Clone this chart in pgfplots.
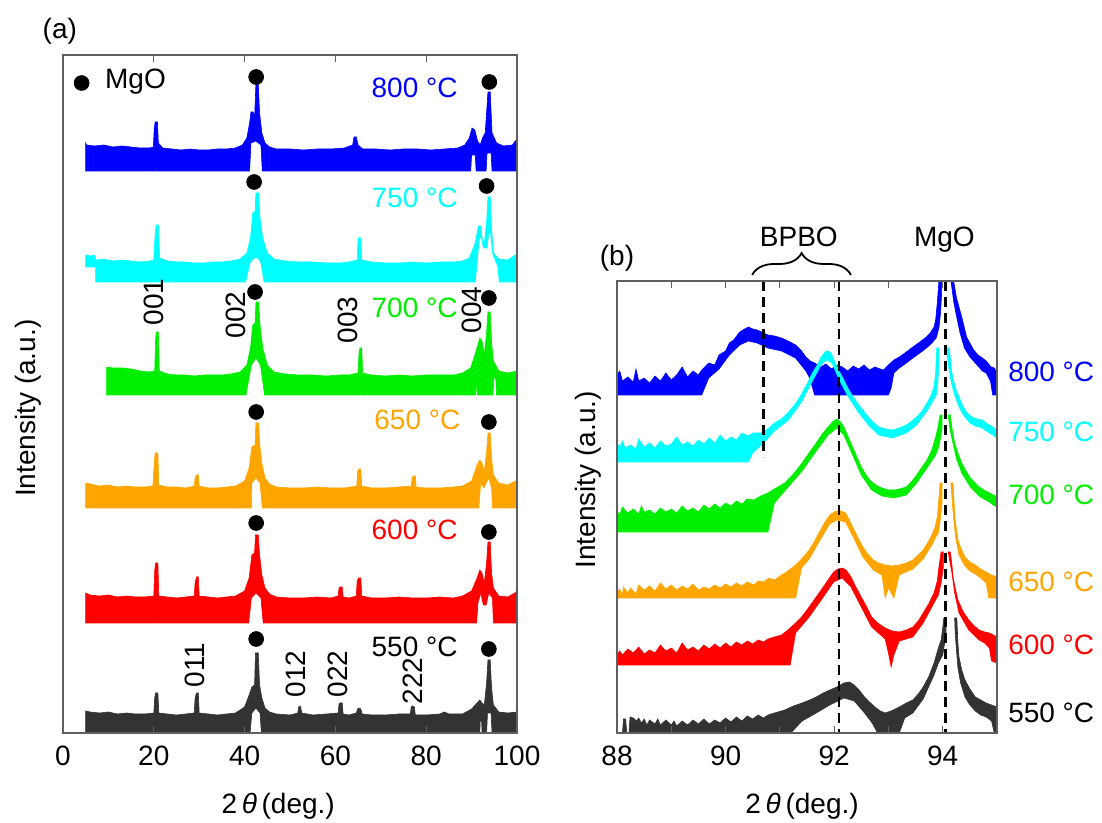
\documentclass[border=0pt]{standalone}
\usepackage{fontspec}
\setmainfont{Liberation Sans}
\usepackage{pgfplots}
\pgfplotsset{compat=1.18}
\usetikzlibrary{decorations.pathreplacing}
\definecolor{cBlue}{RGB}{0,0,255}
\definecolor{cCyan}{RGB}{0,255,255}
\definecolor{cGreen}{RGB}{0,238,0}
\definecolor{cOrange}{RGB}{255,165,0}
\definecolor{cRed}{RGB}{255,0,0}
\definecolor{cGray}{RGB}{51,51,51}
\definecolor{axgray}{RGB}{95,95,95}
\newcommand\fs{\fontsize{14}{16.8}\selectfont}
\pgfplotsset{
  myax/.style={scale only axis, axis on top, clip=false,
    axis line style={axgray, line width=0.6pt},
    tick style={axgray, line width=0.6pt},
    tick align=inside, major tick length=3.5pt, minor tick length=3.5pt,
    ytick=\empty,
    /pgf/number format/assume math mode=true,
    xticklabel style={font=\fs, yshift=-1.5pt},
    xlabel style={font=\fs, anchor=center},
    ylabel style={font=\fs, anchor=center},
  },
  tr/.style={fill=#1, draw=#1, line width=0.3pt},
}
\begin{document}
\fs
\begin{tikzpicture}[x=1pt,y=1pt]
\path[use as bounding box] (0,0) rectangle (551,411.5);
% ---------------- panel (a)
\begin{axis}[myax, at={(31.5pt,45pt)}, anchor=south west, width=227pt, height=339pt,
  xmin=0, xmax=100, ymin=0, ymax=678, xtick={0,20,...,100},
  xlabel={2\,\textit{θ}\,(deg.)}, xlabel style={at={(axis description cs:0.474,-0.108)}},
  ylabel={Intensity (a.u.)}, ylabel style={at={(axis description cs:-0.076,0.479)}}]
% 800 C
\addplot[tr=cBlue] coordinates {(5,562)(5,590)(5.2,588)(7,587)(9,588)(11,586)(13,587)(15,586)(17,585)(19,585)(19.9,586)(20.1,605)(20.3,611)(20.8,611)(21.0,590)(22,585)(24,584)(26,583)(28,584)(30,583)(32,583)(34,584)(36,584)(38,585)(39.5,588)(40.5,595)(41.1,610)(41.4,621)(41.9,621)(42.2,615)(42.5,650)(43.0,650)(43.3,620)(43.8,600)(44.5,590)(45.5,586)(47,584)(50,584)(53,583)(56,584)(59,584)(62,585)(63.8,588)(64.1,596)(64.6,596)(65,588)(66,584)(69,584)(72,583)(75,584)(78,584)(81,583)(84,584)(87,585)(88.5,588)(89.5,595)(90.1,605)(90.7,603)(91.3,592)(91.9,588)(92.4,595)(93.0,600)(93.6,641)(94.1,641)(94.5,600)(95.5,590)(97,587)(99,588)(99.6,592)(100,593)
 (100,562)(94.5,562)(94.3,580)(93.4,580)(93.2,562)(91.0,562)(90.8,578)(90.0,578)(89.8,562)(64.45,562)(64.5,578)(64.55,562)(43.9,562)(43.6,588)(42.5,592)(41.4,590)(41.1,562)(20.55,562)(20.5,578)(20.45,562)} -- cycle;
% 750 C
\addplot[tr=cCyan] coordinates {(5,466)(5,478)(6,477)(7,478)(7.2,473)(9,474)(11,472)(13,473)(15,472)(17,471)(19,472)(20.0,473)(20.3,500)(20.5,508)(21.0,508)(21.3,475)(23,472)(25,471)(27,471)(29,470)(31,470)(33,471)(35,471)(37,472)(39,474)(40.5,480)(41.3,495)(41.8,520)(42.3,522)(42.5,540)(43.1,540)(43.4,515)(44,495)(45,480)(46.5,474)(49,472)(52,471)(55,471)(58,470)(61,470)(63,471)(64.8,473)(65.0,495)(65.6,495)(65.8,473)(68,471)(71,470)(74,470)(77,471)(80,470)(83,471)(86,471)(88,472)(89.5,475)(90.8,490)(91.5,507)(92.0,507)(92.4,492)(92.8,490)(93.3,510)(93.6,536)(94.1,536)(94.4,505)(94.8,480)(96,474)(98,473)(99.6,478)(100,476)
 (100,451)(96.1,451)(95.8,466)(94.6,480)(94.2,500)(93.8,500)(93.4,485)(92.6,485)(92.2,495)(91.7,495)(91.2,470)(90.8,451)(65.35,451)(65.3,465)(65.25,451)(44.3,451)(43.6,470)(43.0,475)(42.0,475)(41.2,470)(40.2,451)(20.8,451)(20.75,468)(20.7,451)(7.2,451)(7.2,466)} -- cycle;
% 700 C
\addplot[tr=cGreen] coordinates {(9.6,338)(9.6,366)(11,365)(13,365)(15,364)(17,362)(19,361)(20.2,362)(20.4,395)(20.6,401)(21.0,401)(21.2,362)(23,359)(25,358)(27,358)(29,357)(31,358)(33,358)(35,358)(37,359)(39,361)(40.5,368)(41.3,385)(41.8,408)(42.3,410)(42.5,431)(43.1,431)(43.4,408)(44,385)(45,368)(46.5,361)(49,359)(52,358)(55,358)(58,357)(61,358)(63,358)(65.0,360)(65.2,380)(65.4,385)(65.8,385)(66,360)(68,358)(71,357)(74,358)(77,357)(80,358)(83,358)(86,358)(88,360)(89.8,365)(91.2,385)(91.8,395)(92.3,392)(92.8,378)(93.3,400)(93.6,421)(94.1,421)(94.4,390)(94.8,372)(96,362)(98,360)(100,362)
 (100,338)(95.5,338)(95.3,355)(94.9,355)(94.7,338)(91.3,338)(91.1,352)(90.9,338)(65.65,338)(65.6,355)(65.55,338)(44.4,338)(43.5,368)(42.5,375)(41.5,368)(40.3,338)(20.85,338)(20.8,355)(20.75,338)} -- cycle;
% 650 C
\addplot[tr=cOrange] coordinates {(5,225)(5,250)(6,249)(8,247)(10,248)(12,246)(14,247)(16,246)(18,246)(19.8,247)(20.1,270)(20.3,280)(20.9,280)(21.1,248)(23,246)(25,246)(27,245)(28.9,247)(29.1,255)(29.4,258)(29.8,258)(30,247)(32,245)(34,245)(36,246)(38,247)(40,252)(41,265)(41.6,286)(42.3,288)(42.5,310)(43.1,310)(43.3,290)(43.8,270)(44.5,255)(45.5,249)(47,246)(50,245)(53,245)(56,246)(59,245)(62,245)(64.7,247)(64.9,262)(65.2,264)(65.6,264)(65.8,247)(68,245)(71,245)(74,246)(76.7,247)(76.9,255)(77.2,257)(77.6,257)(77.8,246)(80,245)(83,245)(86,246)(88,247)(90,252)(91.2,268)(91.8,273)(92.3,270)(92.8,262)(93.3,280)(93.6,300)(94.1,300)(94.4,275)(94.8,258)(96,250)(98,248)(99.6,252)(100,250)
 (100,225)(94.6,225)(94.4,245)(93.8,255)(93.2,250)(92.7,245)(92.0,250)(91.6,225)(43.9,225)(43.4,250)(42.5,255)(41.6,250)(41.5,225)(20.65,225)(20.6,240)(20.55,225)} -- cycle;
% 600 C
\addplot[tr=cRed] coordinates {(5,110)(5,140)(6,138)(8,137)(10,138)(12,136)(14,137)(16,136)(18,136)(20.0,137)(20.2,162)(20.4,170)(20.9,170)(21.1,137)(23,136)(25,135)(27,136)(28.9,137)(29.1,150)(29.4,156)(29.8,156)(30,137)(32,136)(34,135)(36,136)(38,137)(40,142)(41,155)(41.6,178)(42.2,180)(42.4,198)(43.0,198)(43.3,178)(43.8,158)(44.5,145)(45.5,139)(47,136)(50,135)(53,135)(56,136)(59,135)(60.6,137)(60.8,145)(61.0,146)(61.5,146)(61.7,136)(63,135)(64.6,137)(64.8,152)(65.1,155)(65.6,155)(65.8,137)(68,135)(71,135)(74,136)(77,135)(80,135)(83,136)(86,135)(88,137)(90,142)(91.2,155)(91.8,163)(92.3,160)(92.8,150)(93.3,170)(93.6,191)(94.1,191)(94.4,160)(94.8,145)(96,137)(98,136)(99.5,140)(100,142)
 (100,110)(94.8,110)(94.6,135)(93.8,140)(93.2,128)(92.6,128)(92.0,140)(91.4,130)(91.1,110)(44.1,110)(43.6,135)(42.5,140)(41.5,135)(40.9,110)(20.8,110)(20.75,128)(20.7,110)} -- cycle;
% 550 C
\addplot[tr=cGray] coordinates {(5,0)(5,22)(6,21)(8,20)(10,21)(12,19)(14,20)(16,19)(18,19)(20.0,20)(20.2,35)(20.4,40)(20.9,40)(21.1,20)(23,19)(25,18)(27,19)(28.9,20)(29.1,35)(29.4,40)(29.8,40)(30,20)(32,19)(34,18)(36,19)(38,20)(40,26)(41,38)(41.6,46)(42.2,48)(42.4,80)(43.0,80)(43.3,48)(43.8,35)(44.5,25)(45.5,21)(47,19)(50,18)(51.7,20)(51.9,26)(52.3,27)(52.6,20)(55,18)(58,19)(60.6,20)(60.8,29)(61.0,30)(61.5,30)(61.7,19)(63,18)(64.6,20)(64.9,24)(65.2,25)(65.6,24)(65.9,19)(68,18)(71,18)(74,19)(76.5,19)(76.7,26)(77.0,27)(77.4,26)(77.6,18)(80,18)(83,19)(84,21)(85,19)(88,19)(90,24)(91.2,30)(91.8,33)(92.3,30)(92.8,28)(93.3,50)(93.6,73)(94.1,73)(94.4,45)(94.8,28)(96,21)(98,20)(100,21)
 (100,0)(94.5,0)(94.3,20)(93.5,20)(93.3,0)(92.3,0)(92.2,12)(91.9,12)(91.8,0)(43.7,0)(43.4,20)(42.5,25)(41.6,20)(41.2,0)} -- cycle;
% MgO dots
\addplot[only marks, mark=*, mark size=3.7pt, black] coordinates {(4.1,650)(42.55,656)(93.9,651)(42.1,551)(93.3,547)(42.3,441)(93.8,435)(42.55,321)(93.8,311)(42.55,210)(93.8,201)(42.55,94)(93.8,84)};
\node[anchor=west, inner sep=0pt, font=\fs] at (axis cs:9.2,651) {MgO};
% temperatures
\node[anchor=east, inner sep=0pt, font=\fs, text=cBlue] at (axis cs:87,645) {800 °C};
\node[anchor=east, inner sep=0pt, font=\fs, text=cCyan] at (axis cs:87,535) {750 °C};
\node[anchor=east, inner sep=0pt, font=\fs, text=cGreen] at (axis cs:87,425) {700 °C};
\node[anchor=east, inner sep=0pt, font=\fs, text=cOrange] at (axis cs:87.6,313) {650 °C};
\node[anchor=east, inner sep=0pt, font=\fs, text=cRed] at (axis cs:87,203) {600 °C};
\node[anchor=east, inner sep=0pt, font=\fs, text=black] at (axis cs:87,86) {550 °C};
% indices
\node[rotate=90, inner sep=0pt, font=\fs] at (axis cs:20.1,431) {001};
\node[rotate=90, inner sep=0pt, font=\fs] at (axis cs:38.1,418) {002};
\node[rotate=90, inner sep=0pt, font=\fs] at (axis cs:62.7,413) {003};
\node[rotate=90, inner sep=0pt, font=\fs] at (axis cs:90.0,423) {004};
\node[rotate=90, inner sep=0pt, font=\fs] at (axis cs:29.1,68) {011};
\node[rotate=90, inner sep=0pt, font=\fs] at (axis cs:51.3,59) {012};
\node[rotate=90, inner sep=0pt, font=\fs] at (axis cs:60.6,59) {022};
\node[rotate=90, inner sep=0pt, font=\fs] at (axis cs:77.0,52) {222};
\node[font=\fs] at (axis description cs:-0.007,1.035) {(a)};
\end{axis}
% ---------------- panel (b)
\begin{axis}[myax, at={(308.5pt,45pt)}, anchor=south west, width=190pt, height=226pt,
  xmin=88, xmax=95, ymin=0, ymax=452, xtick={88,90,92,94}, minor xtick={89,91,93,95},
  xlabel={2\,\textit{θ}\,(deg.)}, xlabel style={at={(axis description cs:0.487,-0.1615)}},
  ylabel={Intensity (a.u.)}, ylabel style={at={(axis description cs:-0.076,0.56)}}]
% 800
\addplot[tr=cBlue] coordinates {(88,338)(88,358)(88.05,362)(88.1,352)(88.2,356)(88.3,351)(88.35,364)(88.4,352)(88.5,355)(88.6,350)(88.7,357)(88.8,352)(88.9,360)(89.0,353)(89.1,358)(89.2,366)(89.3,356)(89.4,362)(89.5,358)(89.56,363)(89.69,370)(89.8,368)(89.88,378)(90.0,382)(90.07,390)(90.15,393)(90.26,401)(90.35,404)(90.42,406)(90.5,404)(90.58,403)(90.7,400)(90.78,398)(90.9,397)(91.03,395)(91.15,392)(91.29,388)(91.4,382)(91.48,376)(91.56,372)(91.64,370)(91.75,366)(91.85,369)(91.95,364)(92.05,368)(92.15,366)(92.25,362)(92.35,367)(92.45,364)(92.55,368)(92.65,363)(92.75,366)(92.85,364)(92.91,363)(93.0,368)(93.1,373)(93.2,376)(93.33,381)(93.45,386)(93.58,391)(93.7,396)(93.77,400)(93.84,406)(93.87,413)(93.9,430)(93.93,452)(93.98,452)
 (93.98,440)(93.96,420)(93.93,405)(93.88,395)(93.8,390)(93.7,385)(93.58,380)(93.45,375)(93.33,370)(93.2,365)(93.1,360)(93.05,345)(93.0,338)(91.64,338)(91.55,355)(91.48,362)(91.29,375)(91.03,382)(90.78,385)(90.58,390)(90.42,392)(90.26,388)(90.07,378)(89.88,364)(89.69,355)(89.56,338)} -- cycle;
\addplot[tr=cBlue] coordinates {(94.15,452)(94.2,452)(94.22,446)(94.25,436)(94.3,426)(94.35,416)(94.4,405)(94.44,396)(94.5,390)(94.57,383)(94.65,378)(94.73,375)(94.8,372)(94.89,366)(94.95,365)(95,360)
 (95,338)(94.92,338)(94.88,352)(94.8,360)(94.73,362)(94.6,370)(94.5,376)(94.4,385)(94.32,400)(94.25,418)(94.2,432)(94.17,445)} -- cycle;
% 750
\addplot[tr=cCyan] coordinates {(88,271)(88,290)(88.05,286)(88.1,292)(88.15,285)(88.25,288)(88.35,284)(88.4,294)(88.5,286)(88.6,290)(88.7,285)(88.8,292)(88.9,287)(89.0,289)(89.1,296)(89.2,288)(89.3,291)(89.4,287)(89.5,293)(89.6,289)(89.7,295)(89.8,290)(89.9,298)(90.0,292)(90.1,296)(90.2,293)(90.3,300)(90.42,297)(90.5,300)(90.65,300)(90.78,304)(90.9,310)(91.03,314)(91.16,321)(91.3,330)(91.41,340)(91.5,349)(91.6,360)(91.7,369)(91.76,376)(91.85,382)(91.92,381)(91.96,378)(92.02,370)(92.08,363)(92.16,355)(92.24,346)(92.33,338)(92.43,330)(92.53,323)(92.63,316)(92.72,311)(92.82,306)(92.95,304)(93.07,303)(93.2,305)(93.33,308)(93.43,312)(93.52,316)(93.62,322)(93.71,330)(93.78,337)(93.84,346)(93.87,360)(93.89,385)(93.93,385)
 (93.93,370)(93.91,350)(93.88,338)(93.8,330)(93.71,322)(93.52,308)(93.33,300)(93.07,295)(92.82,298)(92.63,308)(92.43,322)(92.24,338)(92.08,355)(91.96,370)(91.85,373)(91.76,368)(91.6,352)(91.41,332)(91.16,313)(90.9,302)(90.7,290)(90.5,280)(90.42,271)} -- cycle;
\addplot[tr=cCyan] coordinates {(94.08,385)(94.12,385)(94.14,375)(94.16,363)(94.2,352)(94.25,343)(94.3,336)(94.38,326)(94.45,320)(94.54,316)(94.63,314)(94.73,313)(94.8,310)(94.92,306)(95,303)
 (95,295)(94.92,298)(94.8,302)(94.73,305)(94.6,307)(94.5,310)(94.38,318)(94.3,326)(94.22,338)(94.16,350)(94.12,362)(94.09,375)} -- cycle;
% 700
\addplot[tr=cGreen] coordinates {(88,201)(88,222)(88.05,218)(88.1,226)(88.2,220)(88.3,224)(88.4,219)(88.45,227)(88.5,221)(88.6,223)(88.7,219)(88.8,225)(88.9,221)(89.0,224)(89.1,220)(89.2,227)(89.3,222)(89.4,225)(89.5,221)(89.6,228)(89.7,224)(89.8,229)(89.9,225)(90.0,230)(90.1,227)(90.2,232)(90.3,229)(90.4,234)(90.52,233)(90.65,237)(90.78,240)(90.9,244)(91.09,250)(91.25,259)(91.41,270)(91.55,281)(91.67,290)(91.78,299)(91.89,306)(91.97,311)(92.05,314)(92.12,311)(92.18,306)(92.26,296)(92.34,286)(92.42,276)(92.5,266)(92.6,257)(92.69,251)(92.8,247)(92.88,245)(93.0,243)(93.1,243)(93.2,244)(93.33,246)(93.42,251)(93.52,258)(93.62,266)(93.71,273)(93.8,283)(93.87,296)(93.91,305)(93.95,318)(93.99,318)
 (93.99,305)(93.96,295)(93.92,285)(93.87,278)(93.71,265)(93.52,250)(93.33,238)(93.1,235)(92.88,237)(92.69,243)(92.5,258)(92.34,278)(92.18,298)(92.05,305)(91.89,298)(91.67,282)(91.41,262)(91.09,242)(90.9,230)(90.78,201)} -- cycle;
\addplot[tr=cGreen] coordinates {(94.1,318)(94.14,318)(94.17,305)(94.22,290)(94.28,280)(94.35,270)(94.43,262)(94.51,255)(94.6,250)(94.67,246)(94.76,243)(94.86,240)(94.93,238)(95,236)
 (95,226)(94.93,228)(94.86,231)(94.76,234)(94.67,237)(94.51,246)(94.35,260)(94.25,275)(94.18,292)(94.13,305)} -- cycle;
% 650
\addplot[tr=cOrange] coordinates {(88,135)(88,140)(88.05,144)(88.1,138)(88.12,146)(88.2,140)(88.25,145)(88.35,139)(88.4,148)(88.5,143)(88.6,147)(88.7,142)(88.8,150)(88.9,144)(89.0,148)(89.1,143)(89.2,147)(89.3,144)(89.4,149)(89.5,143)(89.6,146)(89.7,144)(89.8,148)(89.9,145)(90.0,149)(90.1,146)(90.2,150)(90.3,147)(90.4,151)(90.52,148)(90.6,152)(90.7,151)(90.8,155)(90.9,153)(91.03,158)(91.15,162)(91.29,168)(91.4,174)(91.54,183)(91.63,191)(91.73,201)(91.82,210)(91.92,218)(92.0,221)(92.05,222)(92.13,222)(92.21,220)(92.28,213)(92.37,203)(92.45,194)(92.53,186)(92.62,179)(92.72,173)(92.82,170)(92.94,168)(93.06,167)(93.2,168)(93.33,170)(93.45,173)(93.55,178)(93.64,183)(93.72,190)(93.8,198)(93.86,206)(93.9,216)(93.93,235)(93.95,250)(93.99,250)
 (93.99,232)(93.96,215)(93.92,200)(93.86,195)(93.8,188)(93.64,174)(93.45,164)(93.2,158)(93.1,135)(93.0,145)(92.94,135)(92.88,158)(92.72,163)(92.53,176)(92.37,194)(92.21,211)(92.05,213)(91.92,209)(91.73,192)(91.54,174)(91.4,165)(91.29,135)} -- cycle;
\addplot[tr=cOrange] coordinates {(94.15,250)(94.19,250)(94.21,230)(94.23,213)(94.28,193)(94.34,184)(94.41,176)(94.5,171)(94.6,168)(94.7,164)(94.8,161)(94.9,158)(95,156)
 (95,135)(94.85,135)(94.8,150)(94.7,155)(94.6,159)(94.5,162)(94.41,167)(94.3,178)(94.24,195)(94.2,215)(94.17,235)} -- cycle;
% 600
\addplot[tr=cRed] coordinates {(88,68)(88,78)(88.05,82)(88.1,78)(88.2,84)(88.3,80)(88.4,86)(88.5,79)(88.6,83)(88.7,80)(88.8,88)(88.9,82)(89.0,85)(89.1,80)(89.2,90)(89.3,83)(89.4,86)(89.5,82)(89.6,88)(89.7,84)(89.8,89)(89.9,85)(90.0,90)(90.1,86)(90.2,91)(90.3,88)(90.4,92)(90.5,89)(90.6,93)(90.7,91)(90.78,94)(90.9,96)(91.03,98)(91.15,103)(91.29,110)(91.4,116)(91.54,126)(91.67,136)(91.8,146)(91.9,154)(91.99,161)(92.07,164)(92.15,165)(92.22,163)(92.31,156)(92.4,146)(92.5,136)(92.6,126)(92.69,116)(92.8,110)(92.94,105)(93.07,102)(93.2,101)(93.33,103)(93.45,106)(93.55,112)(93.64,120)(93.74,129)(93.84,140)(93.9,152)(93.93,166)(93.97,181)(94.01,181)
 (94.01,165)(93.97,150)(93.92,138)(93.84,130)(93.64,110)(93.45,96)(93.2,92)(93.1,78)(93.05,66)(93.0,80)(92.94,94)(92.69,106)(92.5,126)(92.31,146)(92.15,155)(91.99,151)(91.8,136)(91.54,116)(91.29,100)(91.19,68)} -- cycle;
\addplot[tr=cRed] coordinates {(94.1,181)(94.14,181)(94.17,168)(94.19,156)(94.23,145)(94.28,133)(94.37,122)(94.48,113)(94.58,107)(94.67,103)(94.77,101)(94.86,100)(94.93,98)(95,96)
 (95,70)(94.9,72)(94.86,85)(94.77,90)(94.67,93)(94.48,103)(94.3,120)(94.22,140)(94.17,160)(94.13,172)} -- cycle;
% 550
\addplot[tr=cGray] coordinates {(88,0)(88.1,0)(88.12,14)(88.16,14)(88.18,0)(88.22,0)(88.24,16)(88.3,15)(88.36,12)(88.4,15)(88.45,10)(88.5,14)(88.55,8)(88.6,13)(88.7,9)(88.75,14)(88.8,8)(88.9,13)(89.0,8)(89.05,12)(89.1,7)(89.2,12)(89.3,8)(89.4,13)(89.5,9)(89.6,14)(89.7,9)(89.8,13)(89.9,10)(90.0,15)(90.1,11)(90.2,16)(90.3,12)(90.4,17)(90.5,14)(90.6,18)(90.7,15)(90.78,18)(90.9,20)(91.09,23)(91.25,27)(91.41,30)(91.55,33)(91.67,36)(91.8,40)(91.92,43)(92.05,46)(92.18,50)(92.28,51)(92.37,48)(92.46,43)(92.56,36)(92.65,31)(92.75,26)(92.85,22)(92.94,20)(93.05,22)(93.2,26)(93.33,30)(93.45,33)(93.55,39)(93.64,46)(93.74,56)(93.84,70)(93.92,85)(93.97,93)(94.0,105)(94.02,115)(94.06,115)
 (94.06,100)(94.03,88)(94.0,78)(93.92,70)(93.84,58)(93.64,34)(93.45,20)(93.3,15)(93.2,0)(92.8,0)(92.7,10)(92.56,20)(92.37,32)(92.18,35)(91.92,28)(91.67,20)(91.41,12)(91.2,0)} -- cycle;
\addplot[tr=cGray] coordinates {(94.22,115)(94.26,115)(94.28,90)(94.3,76)(94.35,63)(94.41,53)(94.5,44)(94.6,36)(94.7,33)(94.8,30)(94.9,28)(95,26)
 (95,0)(94.95,0)(94.9,12)(94.8,16)(94.7,18)(94.6,22)(94.5,28)(94.41,36)(94.33,50)(94.28,65)(94.25,85)(94.23,100)} -- cycle;
% dashed guides
\addplot[black, line width=1.1pt, dash pattern=on 5pt off 3pt] coordinates {(90.7,452)(90.7,276)};
\addplot[black, line width=1.1pt, dash pattern=on 5pt off 3pt] coordinates {(92.09,452)(92.09,0)};
\addplot[black, line width=1.1pt, dash pattern=on 5pt off 3pt] coordinates {(94.05,452)(94.05,0)};
\draw[decorate, decoration={brace, amplitude=11pt}, line width=0.9pt] (axis cs:90.49,458) -- (axis cs:92.31,458);
\node[font=\fs] at (axis cs:91.35,496) {BPBO};
\node[font=\fs] at (axis cs:94.03,493) {MgO};
\node[font=\fs] at (axis description cs:0,1.051) {(b)};
\node[anchor=west, inner sep=0pt, font=\fs, text=cBlue] at (axis cs:95.2,361) {800 °C};
\node[anchor=west, inner sep=0pt, font=\fs, text=cCyan] at (axis cs:95.2,301) {750 °C};
\node[anchor=west, inner sep=0pt, font=\fs, text=cGreen] at (axis cs:95.2,238) {700 °C};
\node[anchor=west, inner sep=0pt, font=\fs, text=cOrange] at (axis cs:95.2,151) {650 °C};
\node[anchor=west, inner sep=0pt, font=\fs, text=cRed] at (axis cs:95.2,88) {600 °C};
\node[anchor=west, inner sep=0pt, font=\fs, text=black] at (axis cs:95.2,20) {550 °C};
\end{axis}
\end{tikzpicture}
\end{document}
